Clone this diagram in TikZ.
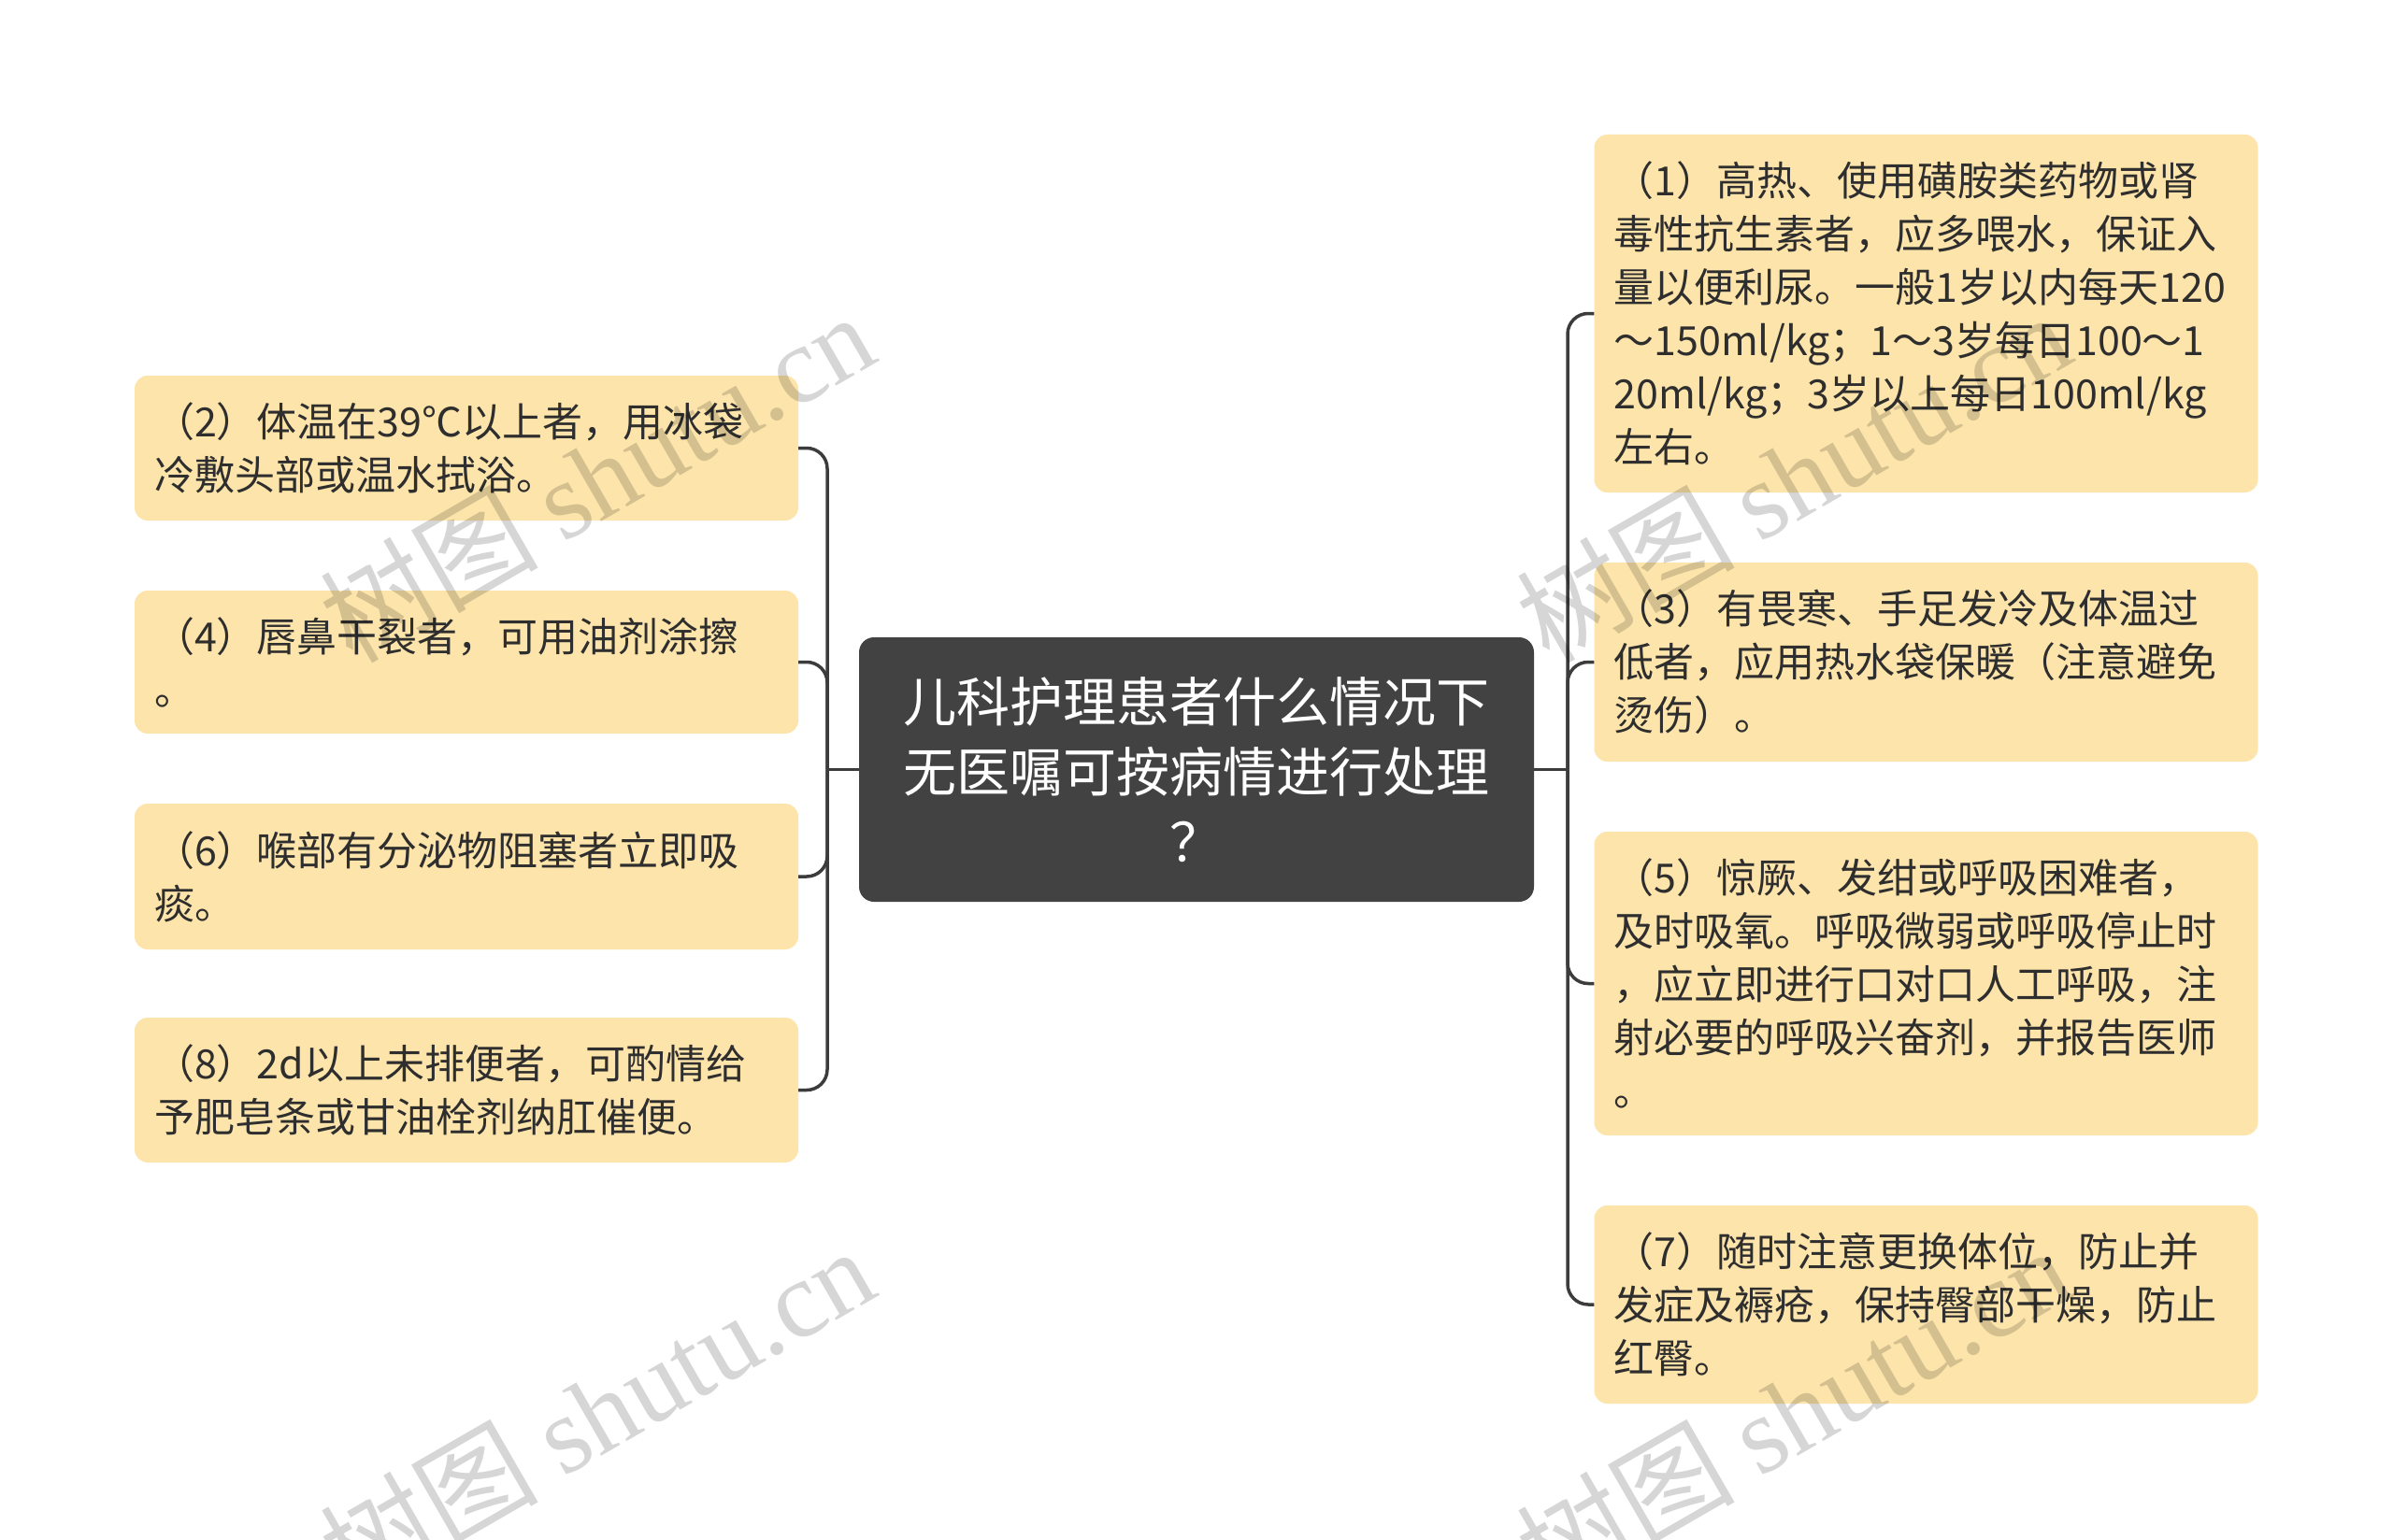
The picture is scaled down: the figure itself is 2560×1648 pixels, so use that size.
\documentclass[tikz,border=0pt]{standalone}
\usepackage{fontspec}
\setmainfont{Noto Sans CJK SC}
\newfontfamily\wmlatin{Liberation Serif}
\newfontfamily\wmcjk{Noto Sans CJK SC}
\definecolor{leaffill}{HTML}{FDE4AB}
\definecolor{leaftext}{HTML}{2E2E2E}
\definecolor{rootfill}{HTML}{424242}
\definecolor{linecol}{HTML}{3C3C3C}
\tikzset{
  leaf/.style={fill=leaffill, rounded corners=14pt, text=leaftext, align=left,
    inner xsep=21pt, inner ysep=0pt, text width=668pt, minimum height=#1,
    font=\fontsize{43}{57}\selectfont},
  rootbox/.style={fill=rootfill, rounded corners=16pt, text=white, align=center,
    minimum width=722pt, minimum height=283pt, inner sep=0pt,
    font=\fontsize{57}{75}\selectfont},
  conn/.style={draw=linecol, line width=3.5pt, rounded corners=22pt},
  wm/.style={rotate=30, inner sep=0pt, text=black, opacity=0.16,
    font=\fontsize{117}{120}\selectfont}
}
\begin{document}
\begin{tikzpicture}[x=1pt,y=-1pt]
\useasboundingbox (0,0) rectangle (2560,1648);
\fill[white] (0,0) rectangle (2560,1648);

\node[rootbox] (root) at (1280,823.5) {儿科护理患者什么情况下\\无医嘱可按病情进行处理\\？};

% left leaves
\node[leaf=155pt] (l2) at (499,479.5) {（2）体温在39℃以上者，用冰袋\\冷敷头部或温水拭浴。};
\node[leaf=153pt] (l4) at (499,708.5) {（4）唇鼻干裂者，可用油剂涂擦\\。};
\node[leaf=156pt] (l6) at (499,938) {（6）喉部有分泌物阻塞者立即吸\\痰。};
\node[leaf=155pt] (l8) at (499,1166.5) {（8）2d以上未排便者，可酌情给\\予肥皂条或甘油栓剂纳肛催便。};

% right leaves
\node[leaf=383pt] (r1) at (2060.5,335.5) {（1）高热、使用磺胺类药物或肾\\毒性抗生素者，应多喂水，保证入\\量以便利尿。一般1岁以内每天120\\～150ml/kg；1～3岁每日100～1\\20ml/kg；3岁以上每日100ml/kg\\左右。};
\node[leaf=213pt] (r3) at (2060.5,708.5) {（3）有畏寒、手足发冷及体温过\\低者，应用热水袋保暖（注意避免\\烫伤）。};
\node[leaf=325pt] (r5) at (2060.5,1052.5) {（5）惊厥、发绀或呼吸困难者，\\及时吸氧。呼吸微弱或呼吸停止时\\，应立即进行口对口人工呼吸，注\\射必要的呼吸兴奋剂，并报告医师\\。};
\node[leaf=212pt] (r7) at (2060.5,1396) {（7）随时注意更换体位，防止并\\发症及褥疮，保持臀部干燥，防止\\红臀。};

% connectors
\coordinate (LT) at (885,823.5);
\coordinate (RT) at (1677,823.5);
\draw[conn] (root.west) -- (LT);
\draw[conn] (root.east) -- (RT);
\foreach \n in {l2,l4,l6,l8} \draw[conn] (LT) |- (\n.east);
\foreach \n in {r1,r3,r5,r7} \draw[conn] (RT) |- (\n.west);

% watermarks
\foreach \dx/\dy [count=\i] in {0/0,1280/0,0/1000,1280/1000} {
  \coordinate (ws\i) at (602+\dx,582+\dy);
  \coordinate (wc\i) at (580.3+\dx,594.5+\dy);
  \node[wm, anchor=base west] (wl\i) at (ws\i) {\wmlatin shutu.cn};
  \node[wm, anchor=base east] (wk\i) at (wc\i) {\wmcjk 树图};
}
\end{tikzpicture}
\end{document}
